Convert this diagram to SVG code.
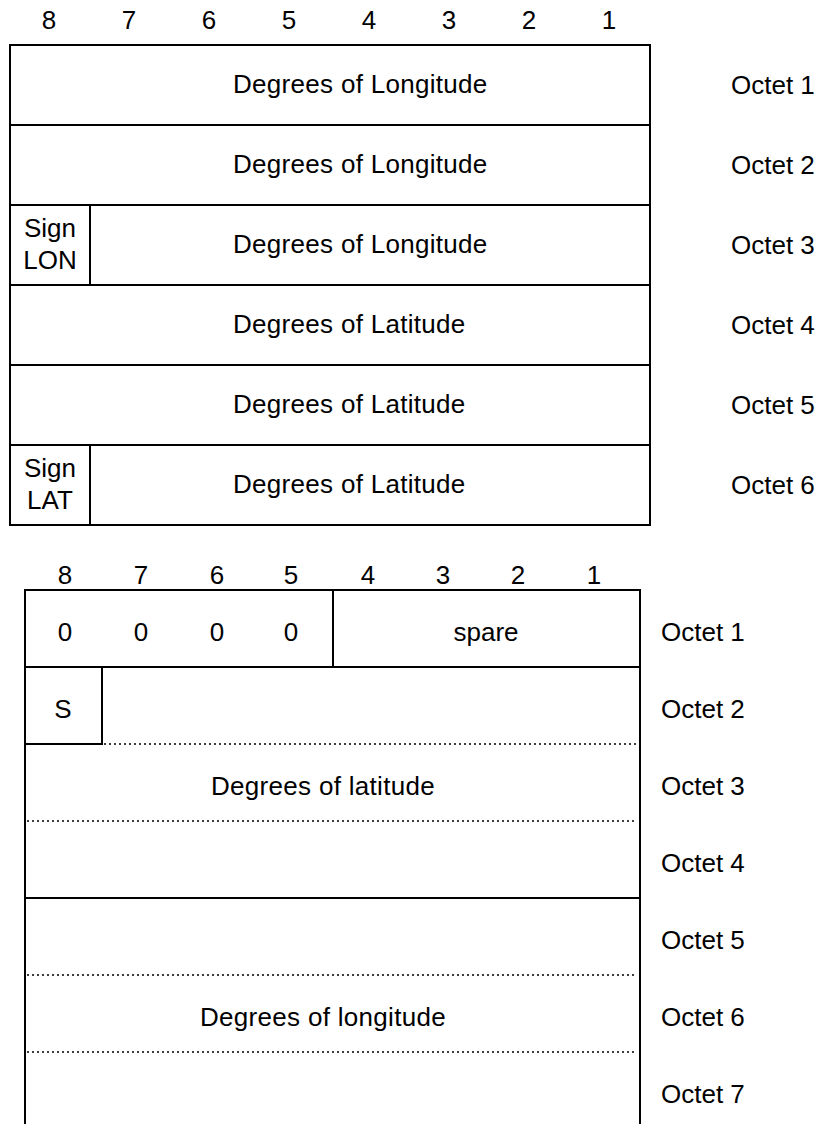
<svg xmlns="http://www.w3.org/2000/svg" width="820" height="1124" viewBox="0 0 820 1124">
<style>
text{font-family:"Liberation Sans",Arial,sans-serif;font-size:26px;fill:#000}
.c{text-anchor:middle}
.g{letter-spacing:0.3px}
.s{fill:none;stroke:#000;stroke-width:2}
.d{fill:none;stroke:#000;stroke-width:1.5;stroke-dasharray:2,3}
</style>
<rect width="820" height="1124" fill="#fff"/>
<g id="top-bits">
<text class="c" x="49" y="29">8</text><text class="c" x="129" y="29">7</text><text class="c" x="209" y="29">6</text><text class="c" x="289" y="29">5</text><text class="c" x="369" y="29">4</text><text class="c" x="449" y="29">3</text><text class="c" x="529" y="29">2</text><text class="c" x="609" y="29">1</text>
</g>
<g id="top-table">
<rect class="s" x="10" y="45" width="640" height="480"/>
<path class="s" d="M10 125H650M10 205H650M10 285H650M10 365H650M10 445H650M90 205V285M90 445V525"/>
</g>
<g id="t-oct1"><text class="g" x="233" y="93">Degrees of Longitude</text><text x="731" y="94">Octet 1</text></g>
<g id="t-oct2"><text class="g" x="233" y="173">Degrees of Longitude</text><text x="731" y="174">Octet 2</text></g>
<g id="t-oct3"><text class="c" x="50" y="237">Sign</text><text class="c" x="50" y="269">LON</text><text class="g" x="233" y="253">Degrees of Longitude</text><text x="731" y="254">Octet 3</text></g>
<g id="t-oct4"><text class="g" x="233" y="333">Degrees of Latitude</text><text x="731" y="334">Octet 4</text></g>
<g id="t-oct5"><text class="g" x="233" y="413">Degrees of Latitude</text><text x="731" y="414">Octet 5</text></g>
<g id="t-oct6"><text class="c" x="50" y="477">Sign</text><text class="c" x="50" y="509">LAT</text><text class="g" x="233" y="493">Degrees of Latitude</text><text x="731" y="494">Octet 6</text></g>

<g id="bottom-bits">
<text class="c" x="65" y="584">8</text><text class="c" x="141" y="584">7</text><text class="c" x="217" y="584">6</text><text class="c" x="291" y="584">5</text><text class="c" x="368" y="584">4</text><text class="c" x="443" y="584">3</text><text class="c" x="518" y="584">2</text><text class="c" x="594" y="584">1</text>
</g>
<g id="bottom-table">
<path class="s" d="M25 1124V590H640V1124M25 667H640M333 590V667M102 667V744H25M25 898H640"/>
<path class="d" d="M104 744H636M27 821H636M27 975H636M27 1052H636"/>
</g>
<g id="b-oct1"><text class="c" x="65" y="641">0</text><text class="c" x="141" y="641">0</text><text class="c" x="217" y="641">0</text><text class="c" x="291" y="641">0</text><text class="c" x="486" y="641">spare</text><text x="661" y="641">Octet 1</text></g>
<g id="b-oct2"><text class="c" x="63" y="718">S</text><text x="661" y="718">Octet 2</text></g>
<g id="b-oct3"><text class="c g" x="323" y="795">Degrees of latitude</text><text x="661" y="795">Octet 3</text></g>
<g id="b-oct4"><text x="661" y="872">Octet 4</text></g>
<g id="b-oct5"><text x="661" y="949">Octet 5</text></g>
<g id="b-oct6"><text class="c g" x="323" y="1026">Degrees of longitude</text><text x="661" y="1026">Octet 6</text></g>
<g id="b-oct7"><text x="661" y="1103">Octet 7</text></g>
</svg>
